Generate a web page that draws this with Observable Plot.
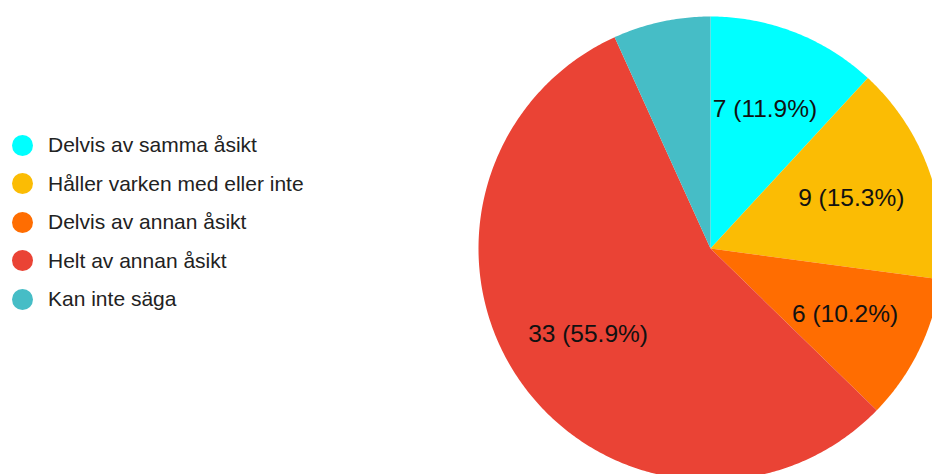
<!DOCTYPE html>
<html>
<head>
<meta charset="utf-8">
<script src="https://cdn.jsdelivr.net/npm/d3@7"></script>
<script src="https://cdn.jsdelivr.net/npm/@observablehq/plot@0.6"></script>
<style>
  html, body { margin: 0; padding: 0; background: #fff; overflow: hidden; width: 932px; height: 474px; }
  #wrap { position: relative; width: 932px; height: 474px; }
  #chart { position: absolute; left: 0; top: 0; }
  #legend { position: absolute; left: 0; top: 126px; font-family: "Liberation Sans", Arial, sans-serif; font-size: 21px; color: #222; }
  .item { display: flex; align-items: center; height: 38.5px; white-space: nowrap; }
  .sw { width: 21px; height: 21px; border-radius: 50%; margin-left: 11.5px; margin-right: 15.5px; flex: none; }
</style>
</head>
<body>
<div id="wrap">
  <div id="chart"></div>
  <div id="legend"></div>
</div>
<script>
const categories = ["Delvis av samma åsikt", "Håller varken med eller inte", "Delvis av annan åsikt", "Helt av annan åsikt", "Kan inte säga"];
const counts = [7, 9, 6, 33, 4];
const colors = ["#00ffff", "#fbbc04", "#ff6d01", "#ea4335", "#46bdc6"];

const total = d3.sum(counts);
const rows = categories.map((c, i) => ({cat: c, value: counts[i]}));
const arcs = d3.pie().sort(null).value(d => d.value)(rows);

// polygon points per slice in unit-circle data coordinates
const poly = [];
arcs.forEach(a => {
  const cat = a.data.cat;
  poly.push({cat, x: 0, y: 0});
  const n = Math.max(2, Math.ceil((a.endAngle - a.startAngle) / 0.01));
  for (let k = 0; k <= n; k++) {
    const t = a.startAngle + (a.endAngle - a.startAngle) * k / n;
    poly.push({cat, x: Math.sin(t), y: Math.cos(t)});
  }
  poly.push({cat, x: 0, y: 0});
});

const labelR = 0.645;
const labels = arcs.filter(a => a.data.value / total >= 0.08).map(a => {
  const m = (a.startAngle + a.endAngle) / 2;
  return {
    x: labelR * Math.sin(m),
    y: labelR * Math.cos(m),
    text: `${a.data.value} (${(a.data.value / total * 100).toFixed(1)}%)`
  };
});

const chart = Plot.plot({
  width: 932,
  height: 474,
  x: {type: "linear", domain: [-1, 1], range: [478, 942], axis: null},
  y: {type: "linear", domain: [-1, 1], range: [480, 16], axis: null},
  color: {domain: categories, range: colors},
  style: {fontFamily: "Liberation Sans, Arial, sans-serif", background: "white", overflow: "hidden"},
  marks: [
    Plot.line(poly, {x: "x", y: "y", z: "cat", fill: "cat", stroke: "none", curve: "linear"}),
    Plot.text(labels, {x: "x", y: "y", text: "text", fontSize: 24.5, fill: "#111", textAnchor: "middle", lineAnchor: "middle"})
  ]
});
document.getElementById("chart").appendChild(chart);

const legend = document.getElementById("legend");
categories.forEach((c, i) => {
  const item = document.createElement("div");
  item.className = "item";
  const sw = document.createElement("span");
  sw.className = "sw";
  sw.style.background = colors[i];
  const tx = document.createElement("span");
  tx.textContent = c;
  item.appendChild(sw);
  item.appendChild(tx);
  legend.appendChild(item);
});
</script>
</body>
</html>
